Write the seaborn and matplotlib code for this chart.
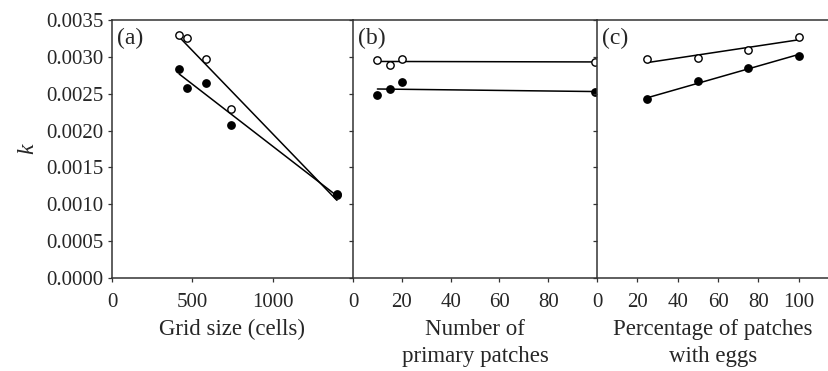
import numpy as np
import pandas as pd
from matplotlib import pyplot as plt
import seaborn as sns

# values
grid_size = [418, 468, 582, 743, 1400]
grid_open = [0.00329, 0.003255, 0.002966, 0.002288, 0.00112]
grid_filled = [0.002835, 0.002573, 0.002649, 0.002080, 0.00114]

n_primary = [10, 15, 20, 99]
primary_open = [0.002953, 0.002889, 0.002971, 0.002930]
primary_filled = [0.002482, 0.002560, 0.002655, 0.002519]

pct_eggs = [25, 50, 75, 100]
eggs_open = [0.002966, 0.002980, 0.003089, 0.003273]
eggs_filled = [0.002424, 0.002668, 0.002849, 0.003016]

y_ticks = [0.0, 0.0005, 0.0010, 0.0015, 0.0020, 0.0025, 0.0030, 0.0035]

sns.set_style('ticks')
plt.rcParams['font.family'] = ['Liberation Serif', 'DejaVu Serif']
plt.rcParams['mathtext.fontset'] = 'custom'
plt.rcParams['mathtext.it'] = 'Liberation Serif:italic'

fig = plt.figure(figsize=(8.29, 3.71), dpi=100)
gs = fig.add_gridspec(1, 3, width_ratios=[241, 244, 232], wspace=0,
                      left=112/829, right=1.0, top=1-20/371, bottom=1-278/371)
axes = [fig.add_subplot(gs[0, i]) for i in range(3)]

panels = [
    (grid_size, grid_open, grid_filled, (0, 1500), [0, 500, 1000], 'Grid size (cells)', '(a)'),
    (n_primary, primary_open, primary_filled, (0, 100), [0, 20, 40, 60, 80], 'Number of\nprimary patches', '(b)'),
    (pct_eggs, eggs_open, eggs_filled, (0, 115), [0, 20, 40, 60, 80, 100], 'Percentage of patches\nwith eggs', '(c)'),
]

spine_col = '#333333'
for i, (ax, (xs, y_open, y_filled, xlim, xt, xlabel, tag)) in enumerate(zip(axes, panels)):
    df = pd.DataFrame({'x': xs, 'open': y_open, 'filled': y_filled})
    # regression lines
    sns.regplot(data=df, x='x', y='open', ax=ax, scatter=False, ci=None, truncate=True,
                line_kws=dict(color='black', lw=1.1))
    sns.regplot(data=df, x='x', y='filled', ax=ax, scatter=False, ci=None, truncate=True,
                line_kws=dict(color='black', lw=1.1))
    sns.scatterplot(data=df, x='x', y='open', ax=ax, marker='o', s=28, color='white',
                    edgecolor='black', linewidth=1.0, zorder=3, clip_on=False)
    sns.scatterplot(data=df, x='x', y='filled', ax=ax, marker='o', s=28, color='black',
                    edgecolor='black', linewidth=1.0, zorder=3, clip_on=False)

    ax.set_xlim(*xlim)
    ax.set_ylim(0, 0.0035)
    ax.set_xticks(xt)
    ax.set_yticks(y_ticks)
    ax.set_xlabel(xlabel, fontsize=16.5, labelpad=5, linespacing=1.35)
    ax.set_ylabel('')
    ax.spines['right'].set_visible(False)
    for s in ['left', 'top', 'bottom']:
        ax.spines[s].set_color(spine_col)
        ax.spines[s].set_linewidth(1.1)
    ax.tick_params(direction='out', length=3, width=0.9, color=spine_col,
                   labelsize=15)
    ax.tick_params(axis='x', pad=8)
    ax.tick_params(axis='y', pad=3)
    if i == 0:
        ax.set_yticklabels(['%.4f' % v for v in y_ticks])
        ax.set_ylabel('$k$', fontsize=17, labelpad=5)
    else:
        ax.set_yticklabels([])
    ax.text(0.02, 0.93, tag, transform=ax.transAxes, fontsize=17, va='center', ha='left')

plt.savefig('out.png', dpi=100)
